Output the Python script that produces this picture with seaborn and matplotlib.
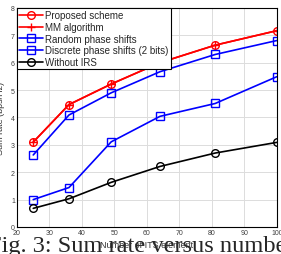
import matplotlib
matplotlib.use("Agg")
import matplotlib.pyplot as plt
import seaborn as sns
import pandas as pd

n_elements = [25, 36, 49, 64, 81, 100]
proposed = [3.10, 4.47, 5.22, 6.00, 6.64, 7.17]
mm_algorithm = [3.10, 4.47, 5.22, 6.00, 6.64, 7.17]
random_phase = [1.00, 1.44, 3.11, 4.04, 4.51, 5.49]
discrete_phase = [2.63, 4.09, 4.90, 5.67, 6.30, 6.81]
without_irs = [0.68, 1.03, 1.63, 2.21, 2.70, 3.09]

series = [
    ("Proposed scheme", proposed, "red", "o"),
    ("MM algorithm", mm_algorithm, "red", "+"),
    ("Random phase shifts", random_phase, "blue", "s"),
    ("Discrete phase shifts (2 bits)", discrete_phase, "blue", "s"),
    ("Without IRS", without_irs, "black", "o"),
]

sns.set_style("white")
plt.rcParams["font.family"] = ["Liberation Sans", "DejaVu Sans"]

fig = plt.figure(figsize=(2.81, 2.55), dpi=100)
ax = fig.add_axes([0.0605, 0.106, 0.925, 0.859])

for name, vals, color, marker in series:
    df = pd.DataFrame({"N": n_elements, "rate": vals})
    sns.lineplot(data=df, x="N", y="rate", ax=ax, color=color, marker=marker,
                 markersize=5.5, markerfacecolor="none", markeredgecolor=color,
                 markeredgewidth=1.0, linewidth=1.2, label=name)

ax.set_xlim(20, 100)
ax.set_ylim(0, 8)
ax.set_xticks(range(20, 101, 10))
ax.set_yticks(range(0, 9))
ax.grid(True, color="#dcdcdc", linewidth=0.7)
ax.tick_params(direction="in", length=2.5, width=0.6, labelsize=5, colors="#404040",
               pad=1.5)
ax.tick_params(axis="both", which="both", color="black")
for s in ax.spines.values():
    s.set_color("black")
    s.set_linewidth(0.8)

ax.set_xlabel("Number of ITS element", fontsize=6.5, color="#333333", labelpad=0)
ax.set_ylabel("Sum rate (bps/Hz)", fontsize=6.5, color="#333333")
ax.yaxis.set_label_coords(-0.045, 0.5)
ax.xaxis.set_label_coords(0.5, -0.06)

leg = ax.legend(loc="upper left", fontsize=7, frameon=True, fancybox=False,
                borderaxespad=0, handlelength=2.4, handletextpad=0.2,
                labelspacing=0.17, borderpad=0.25)
leg.get_frame().set_edgecolor("black")
leg.get_frame().set_linewidth(0.8)
leg.get_frame().set_alpha(1)

# caption of the paper figure, clipped at both sides like in the scan
fig.text(-0.042, -0.008, "Fig. 3: Sum rate versus number of", fontsize=17.6,
         family="Liberation Serif", va="bottom", ha="left", zorder=-1)

fig.savefig("out.png", dpi=100)
